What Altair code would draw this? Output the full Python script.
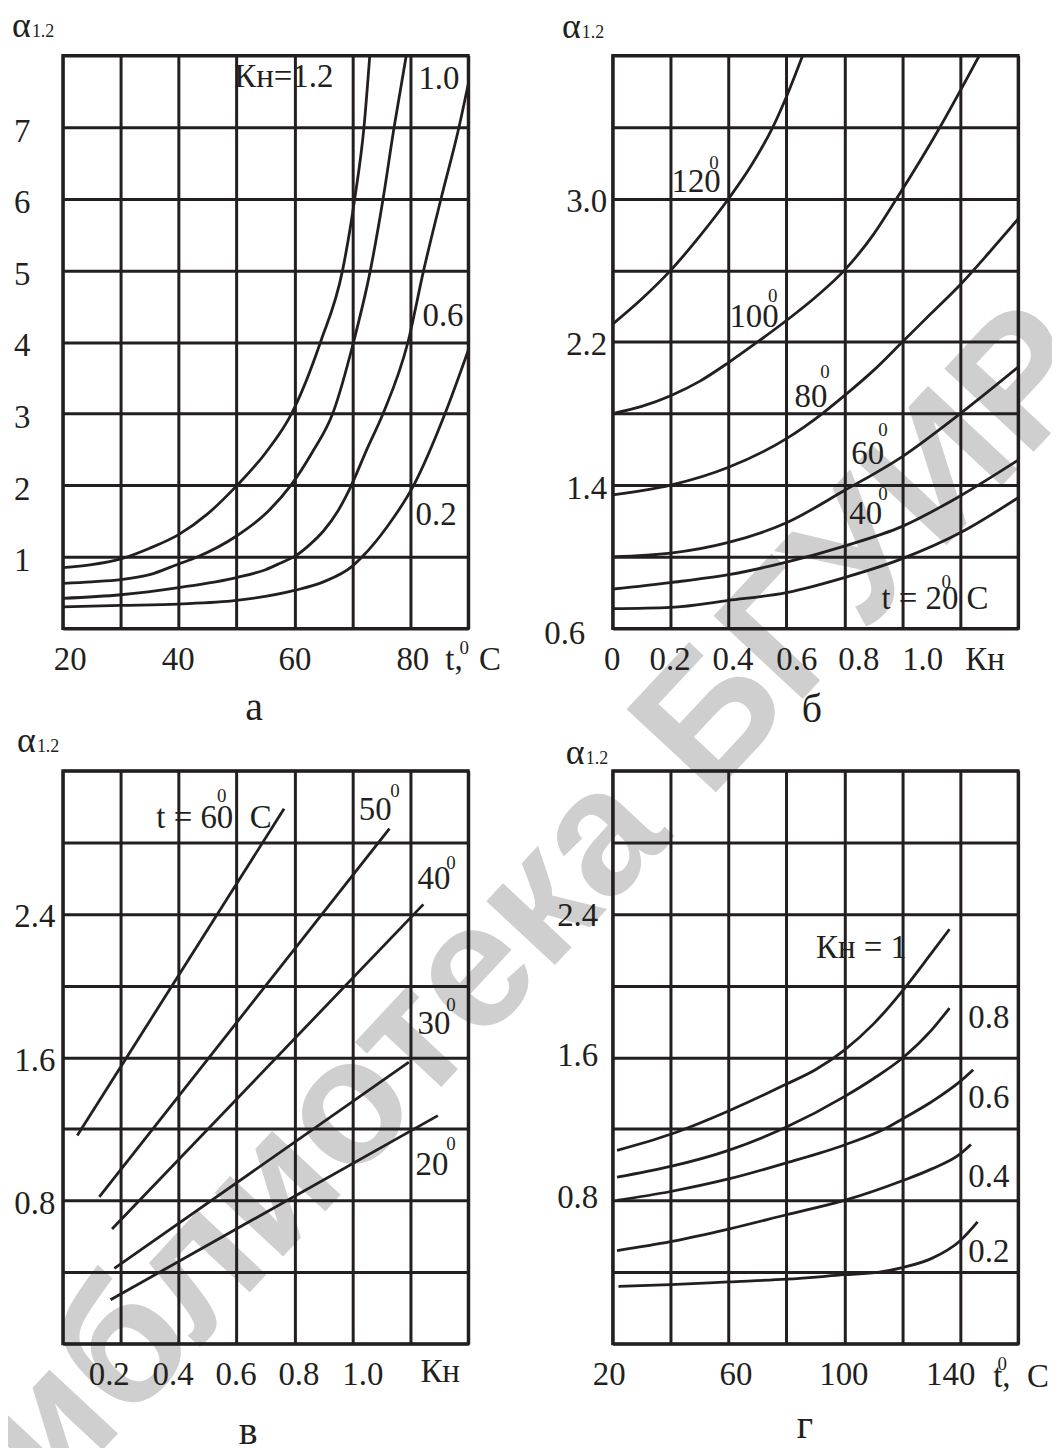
import altair as alt
import pandas as pd

INK = "#231f20"
SERIF = "Liberation Serif"
W, H = 407, 575
FS = 33
SUPFS = 19
LETFS = 40

# ---------------- panel а : α1.2 vs t,°C ----------------
a_k12_t = [20, 25, 30, 35, 40, 45, 50, 55, 59.5, 64.5, 68.3, 70.4, 72.0, 73.0]
a_k12_v = [0.85, 0.89, 0.97, 1.12, 1.31, 1.6, 1.99, 2.45, 3.0, 4.0, 5.0, 6.0, 7.0, 8.0]
a_k10_t = [20, 25, 30, 35, 40, 43.3, 50, 55, 59.4, 63, 66.6, 70.2, 73.1, 75.3, 77.2, 79.3]
a_k10_v = [0.63, 0.65, 0.68, 0.75, 0.9, 1.0, 1.29, 1.6, 2.0, 2.45, 3.0, 4.0, 5.0, 6.0, 7.0, 8.0]
a_k06_t = [20, 30, 40, 50, 55, 57.5, 60.3, 62.5, 65, 67.5, 69.6, 72.5, 75.3, 79.6, 82.3, 85.3, 88.4, 90]
a_k06_v = [0.42, 0.47, 0.57, 0.71, 0.82, 0.91, 1.02, 1.16, 1.36, 1.64, 1.96, 2.5, 3.0, 4.0, 5.0, 6.0, 7.0, 7.6]
a_k02_t = [20, 30, 40, 50, 60, 65, 70, 71.7, 76, 80.6, 86.0, 90]
a_k02_v = [0.30, 0.32, 0.34, 0.39, 0.53, 0.65, 0.87, 1.0, 1.42, 2.0, 3.0, 3.88]
a_labels = [("Кн=1.2", 49.6, 7.555), ("1.0", 81.4, 7.53), ("0.6", 82.1, 4.23), ("0.2", 80.9, 1.447)]

# ---------------- panel б : α1.2 vs Kн ----------------
b_t120_k = [0, 0.1, 0.2, 0.3, 0.4, 0.48, 0.553, 0.6, 0.656]
b_t120_v = [2.30, 2.44, 2.6, 2.79, 3.0, 3.19, 3.4, 3.57, 3.8]
b_t100_k = [0, 0.1, 0.2, 0.3, 0.4, 0.5, 0.6, 0.7, 0.8, 0.9, 0.98, 1.13, 1.266]
b_t100_v = [1.8, 1.84, 1.90, 1.98, 2.085, 2.2, 2.32, 2.45, 2.6, 2.8, 3.0, 3.4, 3.8]
b_t80_k = [0, 0.2, 0.4, 0.6, 0.724, 0.8, 0.9, 1.0, 1.1, 1.2, 1.3, 1.4]
b_t80_v = [1.346, 1.40, 1.50, 1.66, 1.80, 1.90, 2.04, 2.2, 2.36, 2.52, 2.70, 2.887]
b_t60_k = [0, 0.2, 0.4, 0.6, 0.8, 1.0, 1.2, 1.4]
b_t60_v = [1.0, 1.02, 1.08, 1.19, 1.37, 1.56, 1.80, 2.06]
b_t40_k = [0, 0.2, 0.4, 0.6, 0.8, 1.0, 1.2, 1.4]
b_t40_v = [0.82, 0.856, 0.90, 0.97, 1.06, 1.17, 1.34, 1.54]
b_t20_k = [0, 0.2, 0.4, 0.6, 0.8, 1.0, 1.2, 1.4]
b_t20_v = [0.71, 0.717, 0.756, 0.80, 0.884, 0.99, 1.134, 1.33]
b_labels = [("120", 0.203, 3.037), ("100", 0.403, 2.281), ("80", 0.628, 1.835),
            ("60", 0.824, 1.518), ("40", 0.817, 1.184), ("t = 20 C", 0.928, 0.706)]
b_sups = [("0", 0.35, 3.165), ("0", 0.553, 2.425), ("0", 0.733, 2.0),
          ("0", 0.933, 1.674), ("0", 0.933, 1.318), ("0", 1.152, 0.823)]

# ---------------- panel в : α1.2 vs Kн (straight lines) ----------------
c_t60_k, c_t60_v = [0.05, 0.764], [1.163, 2.988]
c_t50_k, c_t50_v = [0.126, 1.128], [0.82, 2.877]
c_t40_k, c_t40_v = [0.17, 1.245], [0.64, 2.454]
c_t30_k, c_t30_v = [0.178, 1.195], [0.42, 1.573]
c_t20_k, c_t20_v = [0.165, 1.295], [0.245, 1.274]
c_labels = [("t = 60\u00a0\u00a0C", 0.323, 2.883), ("50", 1.022, 2.927), ("40", 1.225, 2.538),
            ("30", 1.225, 1.731), ("20", 1.218, 0.940)]
c_sups = [("0", 0.549, 3.027), ("0", 1.147, 3.055), ("0", 1.340, 2.654),
          ("0", 1.340, 1.859), ("0", 1.340, 1.080)]

# ---------------- panel г : α1.2 vs t,°C ----------------
d_k10_t = [21.5, 40, 60, 80, 90, 100, 110, 120, 130, 136.3]
d_k10_v = [1.08, 1.17, 1.30, 1.45, 1.53, 1.64, 1.785, 1.97, 2.18, 2.315]
d_k08_t = [21.5, 40, 60, 80, 100, 110, 120.4, 130, 136.3]
d_k08_v = [0.93, 0.99, 1.08, 1.21, 1.38, 1.48, 1.60, 1.75, 1.875]
d_k06_t = [21.5, 40, 60, 80, 100, 114, 120, 130, 140, 144.5]
d_k06_v = [0.80, 0.85, 0.92, 1.01, 1.11, 1.20, 1.255, 1.35, 1.465, 1.53]
d_k04_t = [21.5, 40, 60, 80, 100, 120, 130, 140, 143.7]
d_k04_v = [0.52, 0.57, 0.64, 0.72, 0.80, 0.91, 0.975, 1.06, 1.113]
d_k02_t = [22, 40, 60, 80, 100, 112, 120, 130, 140, 146]
d_k02_v = [0.32, 0.33, 0.345, 0.36, 0.385, 0.40, 0.425, 0.475, 0.575, 0.68]
d_labels = [("Кн = 1", 90.2, 2.154), ("0.8", 142.8, 1.764), ("0.6", 142.8, 1.319),
            ("0.4", 142.8, 0.874), ("0.2", 142.8, 0.456)]

WATERMARK = "библиотека БГУИР"


def curves(series):
    rows = []
    for name, xs, ys in series:
        for i, (x, y) in enumerate(zip(xs, ys)):
            rows.append({"s": name, "i": i, "x": x, "y": y})
    return pd.DataFrame(rows)


def table(items):
    return pd.DataFrame([{"t": t, "x": x, "y": y} for t, x, y in items])


def ptext(text, x, y, size=FS, align="left", font=SERIF):
    return alt.Chart(pd.DataFrame({"t": [text]})).mark_text(
        align=align, baseline="alphabetic", font=font, fontSize=size, color=INK
    ).encode(x=alt.value(x), y=alt.value(y), text="t:N")


def panel(df, xdom, ydom, xvals, yvals, xfmt, yfmt, xexpr, yexpr, xoff, ypad, yoff,
          interp, labels, sups=None, before=(), after=()):
    X = alt.X("x:Q", scale=alt.Scale(domain=xdom, nice=False, zero=False),
              axis=alt.Axis(values=xvals, format=xfmt, labelExpr=xexpr,
                            labelOffset=alt.ExprRef(expr=xoff), labelPadding=15,
                            grid=True, title=None, zindex=1))
    Y = alt.Y("y:Q", scale=alt.Scale(domain=ydom, nice=False, zero=False),
              axis=alt.Axis(values=yvals, format=yfmt, labelExpr=yexpr,
                            labelOffset=alt.ExprRef(expr=yoff),
                            labelPadding=alt.ExprRef(expr=ypad),
                            grid=True, title=None, zindex=1))
    layers = list(before)
    layers.append(alt.Chart(df).mark_line(color=INK, strokeWidth=2.8, interpolate=interp, clip=True)
                  .encode(x=X, y=Y, detail="s:N", order="i:Q"))
    layers.append(alt.Chart(labels).mark_text(align="left", baseline="alphabetic", font=SERIF,
                                              fontSize=FS, color=INK)
                  .encode(x=X, y=Y, text="t:N"))
    if sups is not None:
        layers.append(alt.Chart(sups).mark_text(align="center", baseline="alphabetic", font=SERIF,
                                                fontSize=SUPFS, color=INK)
                      .encode(x=X, y=Y, text="t:N"))
    layers += list(after)
    return alt.layer(*layers).properties(width=W, height=H)


def alpha(x, y):
    return [ptext("α", x, y, size=36), ptext("1.2", x + 20, y, size=18)]


# watermark + invisible anchor (fixes the layout origin) live in panel а
watermark = alt.Chart(pd.DataFrame({"t": [WATERMARK]})).mark_text(
    align="center", baseline="middle", font="Liberation Sans", fontSize=178,
    fontWeight="bold", angle=313, color="#cfcfcf"
).encode(x=alt.value(442), y=alt.value(891), text="t:N")
anchor = alt.Chart(pd.DataFrame({"t": [0]})).mark_rule(opacity=0, strokeWidth=0).encode(
    x=alt.value(-400), y=alt.value(-400), x2=alt.value(1200), y2=alt.value(1600))

pa = panel(
    curves([("1.2", a_k12_t, a_k12_v), ("1.0", a_k10_t, a_k10_v),
            ("0.6", a_k06_t, a_k06_v), ("0.2", a_k02_t, a_k02_v)]),
    [20, 90], [0, 8], [20, 30, 40, 50, 60, 70, 80, 90], [0, 1, 2, 3, 4, 5, 6, 7, 8],
    "d", "d",
    "(datum.value % 20 == 0 && datum.value < 85) ? datum.label : ''",
    "(datum.value >= 1 && datum.value <= 7) ? datum.label : ''",
    "datum.value == 20 ? 7 : (datum.value == 80 ? 2 : (datum.value == 40 ? -1 : 0))",
    "33", "4", "monotone", table(a_labels),
    before=[watermark],
    after=alpha(-51, -19) + [ptext("t,\u00a0\u00a0C", 384, 617),
                             ptext("0", 403, 601, size=SUPFS, align="center"),
                             ptext("а", 192, 667, size=LETFS, align="center"), anchor],
)

pb = panel(
    curves([("120", b_t120_k, b_t120_v), ("100", b_t100_k, b_t100_v), ("80", b_t80_k, b_t80_v),
            ("60", b_t60_k, b_t60_v), ("40", b_t40_k, b_t40_v), ("20", b_t20_k, b_t20_v)]),
    [0, 1.4], [0.6, 3.8], [0, 0.2, 0.4, 0.6, 0.8, 1.0, 1.2, 1.4],
    [0.6, 1.0, 1.4, 1.8, 2.2, 2.6, 3.0, 3.4, 3.8],
    ".1f", ".1f",
    "datum.value < 0.05 ? '0' : (datum.value < 1.1 ? datum.label : '')",
    "indexof(['0.6','1.4','2.2','3.0'], datum.label) >= 0 ? datum.label : ''",
    "datum.value > 0.9 ? 20 : (datum.value > 0.7 ? 14 : (datum.value > 0.5 ? 10 : (datum.value > 0.3 ? 4 : -1)))",
    "datum.value < 0.7 ? 28 : 6", "datum.value < 0.7 ? 5 : 3", "monotone",
    table(b_labels), table(b_sups),
    after=alpha(-51, -18) + [ptext("Кн", 354, 617), ptext("б", 200, 669, size=LETFS, align="center")],
)

pc = panel(
    curves([("60", c_t60_k, c_t60_v), ("50", c_t50_k, c_t50_v), ("40", c_t40_k, c_t40_v),
            ("30", c_t30_k, c_t30_v), ("20", c_t20_k, c_t20_v)]),
    [0, 1.4], [0, 3.2], [0, 0.2, 0.4, 0.6, 0.8, 1.0, 1.2, 1.4],
    [0, 0.4, 0.8, 1.2, 1.6, 2.0, 2.4, 2.8, 3.2],
    ".1f", ".1f",
    "indexof(['0.2','0.4','0.6','0.8','1.0'], datum.label) >= 0 ? datum.label : ''",
    "indexof(['0.8','1.6','2.4'], datum.label) >= 0 ? datum.label : ''",
    "datum.value > 0.9 ? 10 : (datum.value > 0.7 ? 4 : (datum.value > 0.5 ? -1 : (datum.value > 0.3 ? -6 : -12)))",
    "8", "3", "linear",
    table(c_labels), table(c_sups),
    after=alpha(-46, -19) + [ptext("Кн", 359, 613), ptext("в", 186, 676, size=LETFS, align="center")],
)

pd_ = panel(
    curves([("1", d_k10_t, d_k10_v), ("0.8", d_k08_t, d_k08_v), ("0.6", d_k06_t, d_k06_v),
            ("0.4", d_k04_t, d_k04_v), ("0.2", d_k02_t, d_k02_v)]),
    [20, 160], [0, 3.2], [20, 40, 60, 80, 100, 120, 140, 160],
    [0, 0.4, 0.8, 1.2, 1.6, 2.0, 2.4, 2.8, 3.2],
    "d", ".1f",
    "indexof(['20','60','100','140'], datum.label) >= 0 ? datum.label : ''",
    "indexof(['0.8','1.6','2.4'], datum.label) >= 0 ? datum.label : ''",
    "datum.value == 20 ? -4 : (datum.value == 60 ? 7 : (datum.value == 100 ? -1 : -10))",
    "15", "datum.value > 2 ? 1 : (datum.value > 1.2 ? -2 : -3)", "monotone",
    table(d_labels),
    after=alpha(-47, -7) + [ptext("t,\u00a0\u00a0C", 382, 619),
                            ptext("0", 391, 601, size=SUPFS, align="center"),
                            ptext("г", 193, 670, size=LETFS, align="center")],
)

chart = alt.concat(
    pa, pb, pc, pd_, columns=2, spacing={"row": 143, "column": 145}, bounds="flush"
).properties(
    padding={"left": -347, "top": -357, "right": -209, "bottom": -203},
    background="white",
).configure_view(
    stroke=INK, strokeWidth=3
).configure_axis(
    domain=False, ticks=False, grid=True, gridColor=INK, gridWidth=3, gridOpacity=1,
    labelFont=SERIF, labelFontSize=FS, labelColor=INK, labelFlush=False, labelOverlap=False,
)

chart.save("out.html", embed_options={"renderer": "svg", "actions": False})
